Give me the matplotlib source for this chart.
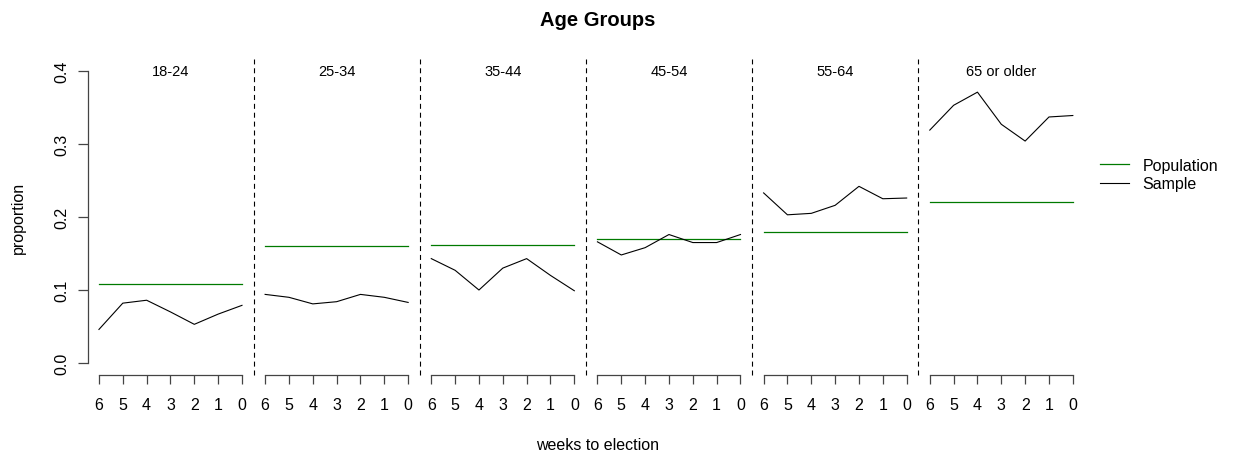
"""Age group proportions by weeks to election: sample vs population."""

import matplotlib
matplotlib.use("Agg")
import matplotlib.pyplot as plt

plt.rcParams["font.family"] = ["Liberation Sans", "DejaVu Sans"]

weeks = [6, 5, 4, 3, 2, 1, 0]
groups = ["18-24", "25-34", "35-44", "45-54", "55-64", "65 or older"]

sample_18_24 = [0.046, 0.082, 0.086, 0.070, 0.053, 0.067, 0.079]
sample_25_34 = [0.094, 0.090, 0.081, 0.084, 0.094, 0.090, 0.083]
sample_35_44 = [0.143, 0.127, 0.100, 0.130, 0.143, 0.120, 0.099]
sample_45_54 = [0.166, 0.148, 0.158, 0.176, 0.165, 0.165, 0.176]
sample_55_64 = [0.233, 0.203, 0.205, 0.216, 0.242, 0.225, 0.226]
sample_65_up = [0.319, 0.353, 0.371, 0.327, 0.304, 0.337, 0.339]
samples = [sample_18_24, sample_25_34, sample_35_44,
           sample_45_54, sample_55_64, sample_65_up]

population = [0.108, 0.160, 0.161, 0.170, 0.180, 0.221]

yticks = [0.0, 0.1, 0.2, 0.3, 0.4]
ytick_labels = ["0.0", "0.1", "0.2", "0.3", "0.4"]

GREEN = "#007a00"
AXCOL = "#444444"

W, H = 1236, 460
fig = plt.figure(figsize=(W / 100, H / 100), dpi=100)

# plot region in pixels (R-style base graphics layout)
left_px, right_px = 87.5, 1084.5
top_px, bot_px = 60, 376
pw = (right_px - left_px) / len(groups)

axes = []
for i, (g, s, p) in enumerate(zip(groups, samples, population)):
    ax = fig.add_axes([(left_px + i * pw) / W, 1 - bot_px / H,
                       pw / W, (bot_px - top_px) / H])
    ax.plot(weeks, [p] * len(weeks), color=GREEN, lw=0.9)
    ax.plot(weeks, s, color="black", lw=0.8)
    ax.set_xlim(6.48, -0.49)
    ax.set_ylim(-0.0164, 0.4164)
    ax.text(0.5, 0.962, g, transform=ax.transAxes, ha="center",
            va="center", fontsize=10.5)

    for sp in ["top", "right", "left"]:
        ax.spines[sp].set_visible(False)
    ax.spines["bottom"].set_bounds(0, 6)
    ax.spines["bottom"].set_color(AXCOL)
    ax.spines["bottom"].set_linewidth(0.9)
    ax.set_xticks(weeks)
    ax.set_xticklabels([str(w) for w in weeks])
    ax.tick_params(axis="x", length=6.5, width=0.9, color=AXCOL,
                   labelsize=11.5, pad=9.5)

    if i == 0:
        ax.spines["left"].set_visible(True)
        ax.spines["left"].set_bounds(0, 0.4)
        ax.spines["left"].set_color(AXCOL)
        ax.spines["left"].set_linewidth(0.9)
        ax.set_yticks(yticks)
        ax.set_yticklabels(ytick_labels, rotation=90, va="center")
        ax.tick_params(axis="y", length=7, width=0.9, color=AXCOL,
                       labelsize=11.5, pad=6)
    else:
        ax.set_yticks([])

    if i < len(groups) - 1:
        ax.axvline(-0.49, color="black", lw=0.8, ls=(0, (4.5, 3.5)),
                   clip_on=False)
    ax.patch.set_visible(False)
    axes.append(ax)

fig.text(598 / W, 1 - 20 / H, "Age Groups", ha="center", va="center",
         fontsize=14.5, fontweight="bold")
fig.text(598 / W, 1 - 446 / H, "weeks to election", ha="center",
         va="center", fontsize=11.5)
fig.text(18 / W, 1 - 218 / H, "proportion", ha="center", va="center",
         rotation=90, fontsize=11.5)

# legend outside on the right
h_pop, = axes[0].plot([], [], color=GREEN, lw=0.9)
h_smp, = axes[0].plot([], [], color="black", lw=0.8)
fig.legend([h_pop, h_smp], ["Population", "Sample"], frameon=False,
           loc="center left", bbox_to_anchor=(1100 / W, 1 - 175.5 / H),
           fontsize=11.5, handlelength=1.8, handletextpad=0.85,
           labelspacing=0.25, borderpad=0, borderaxespad=0)

fig.savefig("out.png", dpi=100)
